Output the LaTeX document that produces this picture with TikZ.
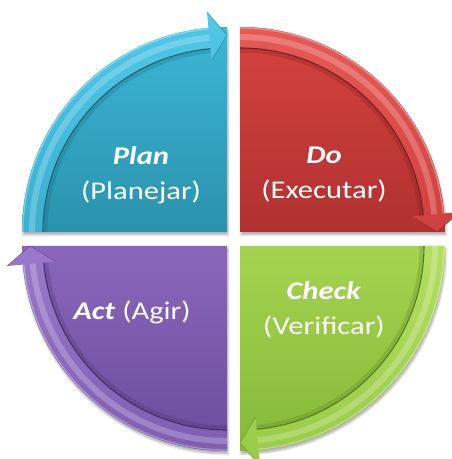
\documentclass[tikz,border=0pt]{standalone}
\usepackage{fontspec}
\setmainfont{Carlito}[FakeStretch=1.2]
\usetikzlibrary{shadows.blur}
\definecolor{bluetop}{HTML}{3DB6D7}
\definecolor{bluebot}{HTML}{2A92AC}
\definecolor{blueband}{HTML}{52C8E8}
\definecolor{bluebandb}{HTML}{3AAFCF}
\definecolor{bluedark}{HTML}{1B6275}
\definecolor{redtop}{HTML}{D6433F}
\definecolor{redbot}{HTML}{B03130}
\definecolor{redband}{HTML}{E65A56}
\definecolor{redbandb}{HTML}{CF403D}
\definecolor{reddark}{HTML}{741E1E}
\definecolor{greentop}{HTML}{A4D44F}
\definecolor{greenbot}{HTML}{86B83A}
\definecolor{greenband}{HTML}{B4DF62}
\definecolor{greenbandb}{HTML}{98CA47}
\definecolor{greendark}{HTML}{557A22}
\definecolor{purptop}{HTML}{8A67BC}
\definecolor{purpbot}{HTML}{6B4C9B}
\definecolor{purpband}{HTML}{9A79CA}
\definecolor{purpbandb}{HTML}{7F5EB2}
\definecolor{purpdark}{HTML}{432E66}
\newcommand{\pdcaquad}[7]{%
  \begin{scope}[shift={#1}]
    \path[pie, top color=#3, bottom color=#4] (0,0) -- (#2:205)
      arc[start angle=#2, delta angle=-90, radius=205] -- cycle;
    \draw[#7, opacity=0.25, line width=4pt] ({#2-84.8}:181.5)
      arc[start angle={#2-84.8}, end angle=#2, radius=181.5];
    \path[top color=#5, bottom color=#6] (#2:205)
      arc[start angle=#2, end angle={#2-84.8}, radius=205]
      -- ({#2-84.8}:221) -- ({#2-90}:197) -- ({#2-84.8}:172) -- ({#2-84.8}:184)
      arc[start angle={#2-84.8}, end angle=#2, radius=184] -- cycle;
    \draw[white, opacity=0.22, line width=6pt] (#2:195)
      arc[start angle=#2, end angle={#2-84.8}, radius=195];
    \draw[#7, line width=1.1pt] ({#2-84.8}:184)
      arc[start angle={#2-84.8}, end angle=#2, radius=184];
    \draw[white, opacity=0.35, line width=1.2pt] (#2:204)
      arc[start angle=#2, end angle={#2-84.8}, radius=204];
    \draw[#7, opacity=0.5, line width=0.6pt] ({#2-84.8}:221) -- ({#2-90}:197) -- ({#2-84.8}:172);
  \end{scope}}
\begin{document}
\begin{tikzpicture}[x=1pt,y=1pt,
  pie/.style={blur shadow={shadow xshift=1pt,shadow yshift=-3pt,shadow blur steps=6,shadow opacity=30}},
  lbl/.style={text=white,align=center,font=\fontsize{25.5}{35}\selectfont}]
  \useasboundingbox (0,0) rectangle (451,459);
  \pdcaquad{(227,227)}{180}{bluetop}{bluebot}{blueband}{bluebandb}{bluedark}
  \pdcaquad{(240,227)}{90}{redtop}{redbot}{redband}{redbandb}{reddark}
  \pdcaquad{(240,213)}{0}{greentop}{greenbot}{greenband}{greenbandb}{greendark}
  \pdcaquad{(227,213)}{-90}{purptop}{purpbot}{purpband}{purpbandb}{purpdark}
  \node[lbl] (plan) at (141,284) {\textbf{\textit{Plan}}\\(Planejar)};
  \node[lbl] (do) at (324,284) {\textbf{\textit{Do}}\\(Executar)};
  \node[lbl] (check) at (324,149) {\textbf{\textit{Check}}\\(Verificar)};
  \node[lbl] (act) at (132,147) {\textbf{\textit{Act}} (Agir)};
\end{tikzpicture}
\end{document}
